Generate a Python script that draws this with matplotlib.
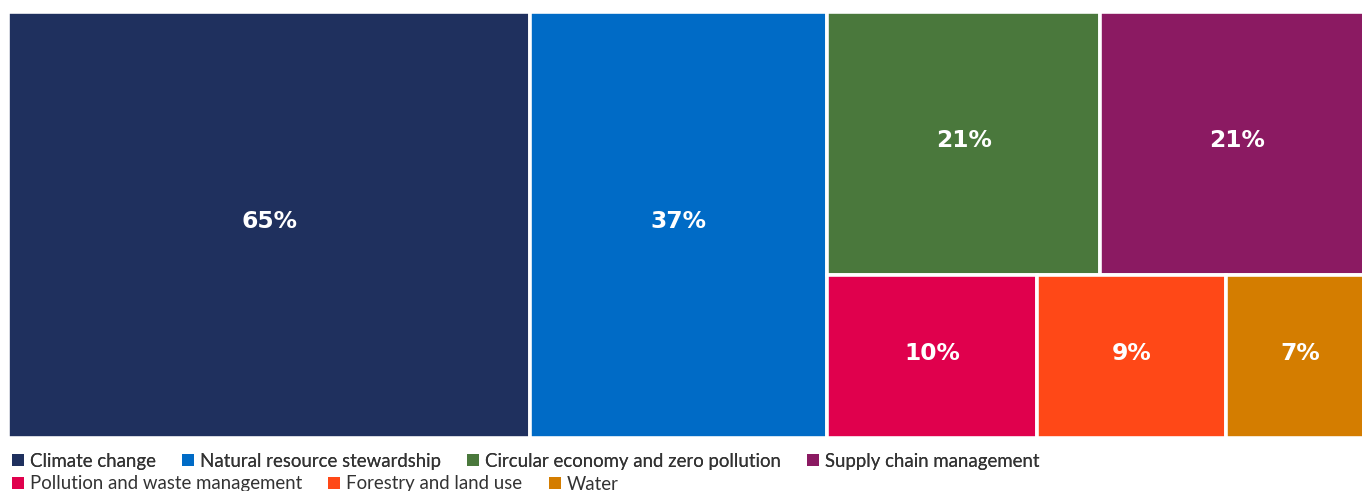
import matplotlib
matplotlib.use("Agg")
import matplotlib.pyplot as plt
from matplotlib.patches import Rectangle, Patch

categories = ["Climate change", "Natural resource stewardship", "Circular economy and zero pollution",
              "Supply chain management", "Pollution and waste management", "Forestry and land use", "Water"]
values = [65, 37, 21, 21, 10, 9, 7]
colors = ["#1F305E", "#006BC6", "#4A783C", "#8B1A62", "#E0004D", "#FF4817", "#D47D00"]
labels = ["65%", "37%", "21%", "21%", "10%", "9%", "7%"]

# layout grouping (indices): columns, last column split into two rows
structure = [[0], [1], [[2, 3], [4, 5, 6]]]

FIG_W, FIG_H = 1362, 491
AX_LEFT, AX_BOTTOM_PX, AX_W, AX_H = 8, 438, 1365.5, 426  # plot area (extends past right edge, as in reference)


def layout(W, H):
    total = sum(values)
    rects = {}
    x = 0.0
    for col in structure:
        if isinstance(col[0], list):
            col_sum = sum(values[i] for row in col for i in row)
            cw = W * col_sum / total
            y = H
            for row in col:
                row_sum = sum(values[i] for i in row)
                rh = H * row_sum / col_sum
                xx = x
                for i in row:
                    w = cw * values[i] / row_sum
                    rects[i] = (xx, y - rh, w, rh)
                    xx += w
                y -= rh
        else:
            col_sum = sum(values[i] for i in col)
            cw = W * col_sum / total
            rects[col[0]] = (x, 0, cw, H)
        x += cw
    return rects


fig = plt.figure(figsize=(FIG_W / 100, FIG_H / 100), dpi=100)
ax = fig.add_axes([AX_LEFT / FIG_W, (FIG_H - AX_BOTTOM_PX) / FIG_H, AX_W / FIG_W, AX_H / FIG_H])
ax.set_xlim(0, AX_W)
ax.set_ylim(0, AX_H)
ax.axis("off")

rects = layout(AX_W, AX_H)
for i, (x, y, w, h) in rects.items():
    ax.add_patch(Rectangle((x, y), w, h, facecolor=colors[i], edgecolor="white", linewidth=2.6))
    ax.annotate(labels[i], (x + w / 2, y + h / 2), xytext=(0, 2.2), textcoords="offset points",
                color="white", fontsize=16.8, fontweight="bold", family="DejaVu Sans",
                ha="center", va="center")


def make_legend(idx, ypos):
    handles = [Patch(facecolor=colors[i], edgecolor="none") for i in idx]
    leg = fig.legend(handles, [categories[i] for i in idx], loc="center left",
                     bbox_to_anchor=(12 / FIG_W, ypos), ncol=len(idx), frameon=False,
                     prop={"family": "Lato", "size": 13.4}, handlelength=0.65, handleheight=0.65,
                     handletextpad=0.32, columnspacing=1.4, borderaxespad=0, borderpad=0)
    for t in leg.get_texts():
        t.set_color("#333333")
    return leg


l1 = make_legend([0, 1, 2, 3], 1 - 461 / FIG_H)
fig.add_artist(l1)
make_legend([4, 5, 6], 1 - 484 / FIG_H)

fig.savefig("out.png", dpi=100)
